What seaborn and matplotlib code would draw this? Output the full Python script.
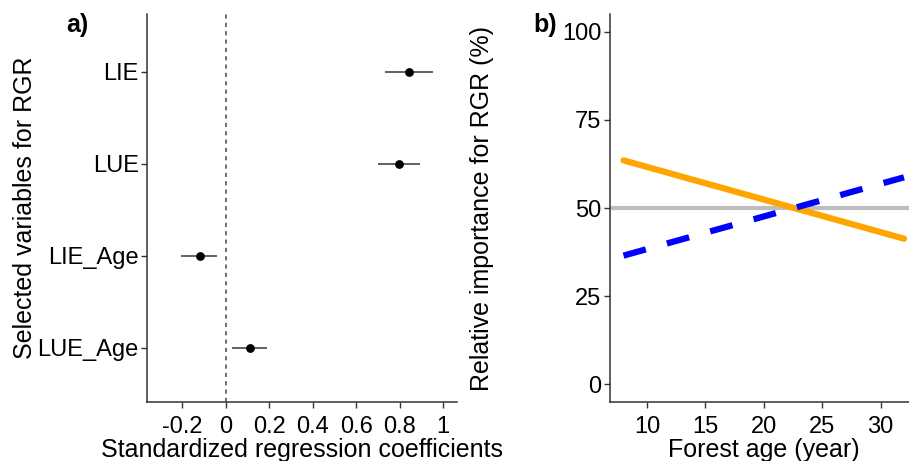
import matplotlib
matplotlib.use("Agg")
import matplotlib.pyplot as plt
import seaborn as sns
import numpy as np
import pandas as pd

# ---- data ----
variables = ["LIE", "LUE", "LIE_Age", "LUE_Age"]
coef = [0.843, 0.797, -0.120, 0.112]
ci_low = [0.732, 0.698, -0.205, 0.029]
ci_high = [0.953, 0.895, -0.040, 0.190]

x_ticks_a = [-0.2, 0, 0.2, 0.4, 0.6, 0.8, 1]
x_ticklabels_a = ["-0.2", "0", "0.2", "0.4", "0.6", "0.8", "1"]

age = [8, 32]
lie_importance = [63.5, 41.3]
lue_importance = [36.5, 58.7]
reference_level = 50

sns.set_theme(style="white")
plt.rcParams["font.family"] = ["Liberation Sans", "DejaVu Sans"]
plt.rcParams["text.color"] = "black"
plt.rcParams["axes.labelcolor"] = "black"
FS_TICK = 17
FS_LAB = 18
SPINE = "#333333"

fig = plt.figure(figsize=(9.09, 4.61), dpi=100)
W, H = 909, 461
def axpos(l, t, r, b):
    return [l / W, 1 - b / H, (r - l) / W, (b - t) / H]

# ---- panel a ----
axa = fig.add_axes(axpos(147, 14, 457, 402))
ypos = np.arange(len(variables))[::-1]
dfa = pd.DataFrame({"coef": coef, "y": ypos, "lo": ci_low, "hi": ci_high})
axa.axvline(0, color="#555555", linestyle=(0, (2.5, 2.5)), linewidth=1.2, zorder=1)
axa.hlines(dfa["y"], dfa["lo"], dfa["hi"], color="#555555", linewidth=1.3, zorder=2)
sns.scatterplot(data=dfa, x="coef", y="y", ax=axa, color="black", s=40,
                edgecolor="black", linewidth=0, zorder=3)
axa.set_xlim(-0.363, 1.063)
axa.set_ylim(-0.59, 3.63)
axa.set_yticks(ypos)
axa.set_yticklabels(variables)
axa.set_xticks(x_ticks_a)
axa.set_xticklabels(x_ticklabels_a)
axa.set_xlabel("Standardized regression coefficients", fontsize=FS_LAB, labelpad=0)
axa.set_ylabel("Selected variables for RGR", fontsize=FS_LAB)
axa.yaxis.set_label_coords(-0.355, 0.5)
axa.text(-0.226, 1 - 11 / 388, "a)", transform=axa.transAxes, fontsize=FS_LAB,
         fontweight="bold", ha="center", va="center")

# ---- panel b ----
axb = fig.add_axes(axpos(609.5, 14, 918, 402))
dfb = pd.DataFrame({"age": age + age,
                    "imp": lie_importance + lue_importance,
                    "var": ["LIE"] * 2 + ["LUE"] * 2})
axb.axhline(reference_level, color="#BEBEBE", linewidth=3.0, zorder=1)
sns.lineplot(data=dfb[dfb["var"] == "LIE"], x="age", y="imp", ax=axb,
             color="#FFA500", linewidth=4.5, zorder=2)
sns.lineplot(data=dfb[dfb["var"] == "LUE"], x="age", y="imp", ax=axb,
             color="#0000FF", linewidth=4.5, zorder=3)
axb.lines[-1].set_dashes([3.7, 3.5])
axb.set_xlim(6.8, 33.2)
axb.set_ylim(-5, 105)
axb.set_xticks([10, 15, 20, 25, 30])
axb.set_yticks([0, 25, 50, 75, 100])
axb.set_xlabel("Forest age (year)", fontsize=FS_LAB, labelpad=0)
axb.set_ylabel("Relative importance for RGR (%)", fontsize=FS_LAB)
axb.yaxis.set_label_coords(-0.374, 0.5)
axb.text(-0.209, 1 - 11 / 388, "b)", transform=axb.transAxes, fontsize=FS_LAB,
         fontweight="bold", ha="center", va="center")

for ax in (axa, axb):
    sns.despine(ax=ax)
    for s in ("left", "bottom"):
        ax.spines[s].set_color(SPINE)
        ax.spines[s].set_linewidth(1.1)
    ax.tick_params(axis="both", which="major", length=4, width=1, color=SPINE,
                   labelsize=FS_TICK, labelcolor="black", left=True, bottom=True)
    ax.tick_params(axis="x", pad=6)
    ax.tick_params(axis="y", pad=2)
    ax.grid(False)
    ax.set_facecolor("white")

fig.savefig("out.png", dpi=100, facecolor="white")
